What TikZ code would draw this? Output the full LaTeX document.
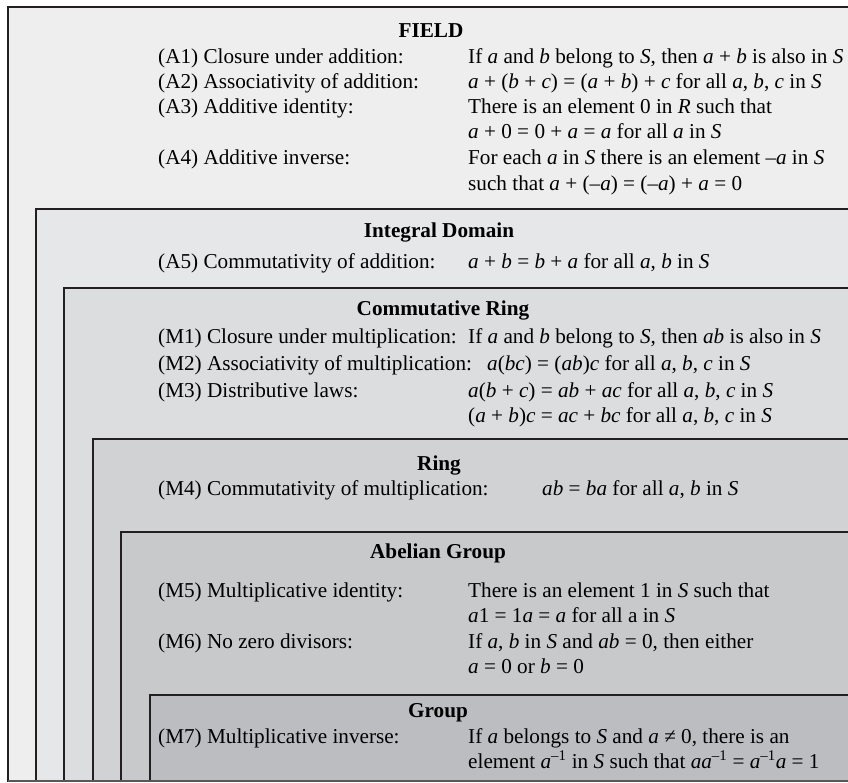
\documentclass[tikz,border=0pt]{standalone}
\usepackage{fontspec}
\setmainfont{Liberation Serif}
\definecolor{BoxLine}{HTML}{231F20}
\definecolor{FieldFill}{HTML}{EEEEEE}
\definecolor{DomainFill}{HTML}{E6E7E8}
\definecolor{CommRingFill}{HTML}{DCDDDF}
\definecolor{RingFill}{HTML}{D1D2D4}
\definecolor{AbelianFill}{HTML}{C8C9CB}
\definecolor{GroupFill}{HTML}{BCBDC0}
\newcommand{\mv}[1]{\textit{#1}}
\newcommand{\axiomsize}{\fontsize{21.2}{25}\selectfont}
\tikzset{
  edge/.style={draw=BoxLine, line width=2.4pt},
  title/.style={anchor=base, font=\axiomsize\bfseries},
  axiom/.style={anchor=base west, inner sep=0pt, font=\axiomsize},
}

\begin{document}
\begin{tikzpicture}[x=1pt, y=-1pt]

\useasboundingbox (0,0) rectangle (848,782);

% nested boxes, open to the right and below
\coordinate (F) at (8,7);
\coordinate (I) at (36,209);
\coordinate (C) at (64,288);
\coordinate (R) at (93,439);
\coordinate (A) at (121,532);
\coordinate (G) at (150,695);

\fill[FieldFill] (F) rectangle (848,782);
\draw[edge] (F -| 848,0) -- (F) -- (F |- 0,782);
\fill[DomainFill] (I) rectangle (848,782);
\draw[edge] (I -| 848,0) -- (I) -- (I |- 0,782);
\fill[CommRingFill] (C) rectangle (848,782);
\draw[edge] (C -| 848,0) -- (C) -- (C |- 0,782);
\fill[RingFill] (R) rectangle (848,782);
\draw[edge] (R -| 848,0) -- (R) -- (R |- 0,782);
\fill[AbelianFill] (A) rectangle (848,782);
\draw[edge] (A -| 848,0) -- (A) -- (A |- 0,782);
\fill[GroupFill] (G) rectangle (848,782);
\draw[edge] (G -| 848,0) -- (G) -- (G |- 0,782);
\draw[BoxLine!75, line width=1.2pt] (F |- 0,781) -- (848,781);

% FIELD
\node[title] (field) at (431,37) {FIELD};
\node[axiom] (a1) at (158,63) {(A1) Closure under addition:};
\node[axiom] (a1v) at (468,63) {If \mv{a} and \mv{b} belong to \mv{S}, then \mv{a} + \mv{b} is also in \mv{S}};
\node[axiom] (a2) at (158,88) {(A2) Associativity of addition:};
\node[axiom] (a2v) at (468,88) {\mv{a} + (\mv{b} + \mv{c}) = (\mv{a} + \mv{b}) + \mv{c} for all \mv{a}, \mv{b}, \mv{c} in \mv{S}};
\node[axiom] (a3) at (158,113) {(A3) Additive identity:};
\node[axiom] (a3v) at (468,113) {There is an element 0 in \mv{R} such that};
\node[axiom] (a3w) at (468,138) {\mv{a} + 0 = 0 + \mv{a} = \mv{a} for all \mv{a} in \mv{S}};
\node[axiom] (a4) at (158,164) {(A4) Additive inverse:};
\node[axiom] (a4v) at (468,164) {For each \mv{a} in \mv{S} there is an element –\mv{a} in \mv{S}};
\node[axiom] (a4w) at (468,190) {such that \mv{a} + (–\mv{a}) = (–\mv{a}) + \mv{a} = 0};

% Integral Domain
\node[title] (domain) at (439,237) {Integral Domain};
\node[axiom] (a5) at (158,268) {(A5) Commutativity of addition:};
\node[axiom] (a5v) at (468,268) {\mv{a} + \mv{b} = \mv{b} + \mv{a} for all \mv{a}, \mv{b} in \mv{S}};

% Commutative Ring
\node[title] (commring) at (443,315) {Commutative Ring};
\node[axiom] (m1) at (158,343) {(M1) Closure under multiplication:};
\node[axiom] (m1v) at (468,343) {If \mv{a} and \mv{b} belong to \mv{S}, then \mv{ab} is also in \mv{S}};
\node[axiom] (m2) at (158,370) {(M2) Associativity of multiplication:};
\node[axiom] (m2v) at (487,370) {\mv{a}(\mv{bc}) = (\mv{ab})\mv{c} for all \mv{a}, \mv{b}, \mv{c} in \mv{S}};
\node[axiom] (m3) at (158,397) {(M3) Distributive laws:};
\node[axiom] (m3v) at (468,397) {\mv{a}(\mv{b} + \mv{c}) = \mv{ab} + \mv{ac} for all \mv{a}, \mv{b}, \mv{c} in \mv{S}};
\node[axiom] (m3w) at (468,422) {(\mv{a} + \mv{b})\mv{c} = \mv{ac} + \mv{bc} for all \mv{a}, \mv{b}, \mv{c} in \mv{S}};

% Ring
\node[title] (ring) at (439,470) {Ring};
\node[axiom] (m4) at (158,495) {(M4) Commutativity of multiplication:};
\node[axiom] (m4v) at (542,495) {\mv{ab} = \mv{ba} for all \mv{a}, \mv{b} in \mv{S}};

% Abelian Group
\node[title] (abelian) at (438,558) {Abelian Group};
\node[axiom] (m5) at (158,597) {(M5) Multiplicative identity:};
\node[axiom] (m5v) at (468,597) {There is an element 1 in \mv{S} such that};
\node[axiom] (m5w) at (468,622) {\mv{a}1 = 1\mv{a} = \mv{a} for all a in \mv{S}};
\node[axiom] (m6) at (158,648) {(M6) No zero divisors:};
\node[axiom] (m6v) at (468,648) {If \mv{a}, \mv{b} in \mv{S} and \mv{ab} = 0, then either};
\node[axiom] (m6w) at (468,673) {\mv{a} = 0 or \mv{b} = 0};

% Group
\node[title] (group) at (438,717) {Group};
\node[axiom] (m7) at (158,743) {(M7) Multiplicative inverse:};
\node[axiom] (m7v) at (468,743) {If \mv{a} belongs to \mv{S} and \mv{a} ≠ 0, there is an};
\node[axiom] (m7w) at (468,768) {element \mv{a}\textsuperscript{–1} in \mv{S} such that \mv{aa}\textsuperscript{–1} = \mv{a}\textsuperscript{–1}\mv{a} = 1};

\end{tikzpicture}
\end{document}
